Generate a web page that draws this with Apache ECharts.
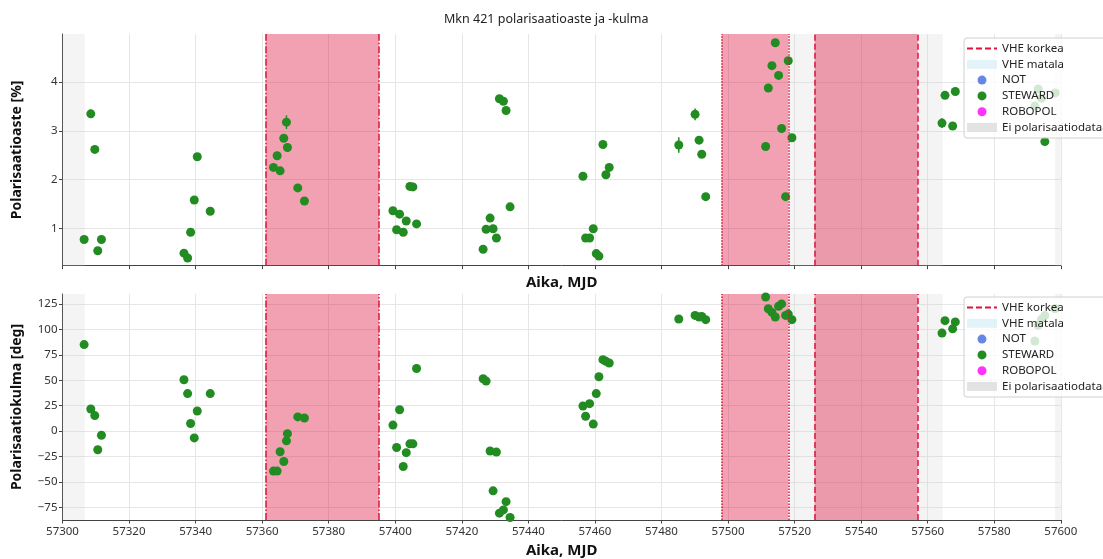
<!DOCTYPE html>
<html>
<head>
<meta charset="utf-8">
<script src="https://cdn.jsdelivr.net/npm/echarts@6/dist/echarts.min.js"></script>
<style>
html,body{margin:0;padding:0;background:#fff;}
#c{width:1103px;height:559px;}
</style>
</head>
<body>
<div id="c"></div>
<script>
// ---------------- DATA ----------------
const mjd = [57306.5,57308.5,57309.7,57310.6,57311.7,
  57336.5,57337.6,57338.5,57339.6,57340.5,57344.4,
  57363.4,57364.5,57365.4,57366.5,57367.3,57367.6,57370.7,57372.7,
  57399.3,57400.4,57401.3,57402.4,57403.3,57404.4,57405.3,57406.4,
  57426.4,57427.3,57428.5,57429.4,57430.4,57431.3,57432.5,57433.3,57434.5,
  57456.4,57457.2,57458.4,57459.5,57460.4,57461.2,57462.4,57463.3,57464.3,
  57485.2,57490.1,57491.3,57492.1,57493.3,
  57511.3,57512.1,57513.2,57514.2,57515.2,57516.1,57517.3,57518.1,57519.2,
  57564.3,57565.2,57567.5,57568.3,
  57592.2,57593.2,57594.2,57595.2,57598.3];
const polDegree = [0.77,3.35,2.62,0.54,0.77,
  0.49,0.39,0.92,1.58,2.47,1.35,
  2.25,2.49,2.18,2.85,3.18,2.66,1.83,1.56,
  1.36,0.97,1.29,0.92,1.15,1.86,1.85,1.09,
  0.57,0.98,1.21,0.99,0.80,3.66,3.61,3.42,1.44,
  2.07,0.80,0.80,0.99,0.48,0.43,2.72,2.10,2.25,
  2.71,3.34,2.81,2.52,1.65,
  2.68,3.88,4.34,4.81,4.14,3.05,1.65,4.44,2.86,
  3.16,3.73,3.10,3.81,
  3.51,3.86,3.67,2.78,3.78];
const polDegreeErr = [0.04,0.04,0.04,0.04,0.04,
  0.04,0.04,0.04,0.04,0.04,0.04,
  0.04,0.04,0.04,0.04,0.14,0.04,0.04,0.04,
  0.04,0.04,0.04,0.04,0.04,0.04,0.04,0.04,
  0.04,0.04,0.04,0.04,0.04,0.04,0.04,0.04,0.04,
  0.04,0.04,0.04,0.04,0.04,0.04,0.04,0.04,0.04,
  0.16,0.12,0.04,0.04,0.04,
  0.04,0.04,0.04,0.04,0.04,0.04,0.04,0.04,0.04,
  0.10,0.04,0.04,0.04,
  0.04,0.04,0.04,0.04,0.04];
const polAngle = [85,21.8,15.3,-18.2,-4,
  50.5,36.9,7.6,-6.6,19.8,36.9,
  -39.2,-39.2,-20.2,-29.8,-9.5,-2.4,14,13,
  6,-16,21.1,-34.7,-21.1,-12.4,-12.4,61.5,
  51.5,49.2,-19.5,-58.6,-20.5,-80.5,-77.3,-69.2,-84.7,
  24.7,14.7,27,7,36.9,53.4,70.2,68.6,67,
  110.2,113.7,112.1,112.7,109.5,
  131.8,120.2,116.6,112.1,122.7,125,113.7,115,109.5,
  96.3,108.5,100.5,107.3,
  88.5,104,110,113.5,120.2];
// VHE high-state periods [start, end] (MJD)
const vheHigh = [[57361.05,57395.1],[57498.1,57518.1],[57526.0,57557.0]];
// periods without polarisation data
const noPolData = [[57300,57306.7],[57518.3,57564.5],[57598.3,57600]];
const xTicks = {min:57300, max:57600, step:20};
const degTicks = [1,2,3,4];
const angTicks = [-75,-50,-25,0,25,50,75,100,125];
const legendNames = ['VHE korkea','VHE matala','NOT','STEWARD','ROBOPOL','Ei polarisaatiodataa'];

// ---------------- CHART ----------------
const FONT = 'Noto Sans';
const chart = echarts.init(document.getElementById('c'), null, {renderer:'canvas'});
const GREEN = '#228B22', CRIMSON = '#DC143C';
const borderTypes = [[7,2,1.5,2],[1.5,1.5],[6,3]];
const minus = v => String(v).replace('-', '\u2212');

const degData = mjd.map((x,i)=>[x, polDegree[i]]);
const degErrData = mjd.map((x,i)=>[x, polDegree[i], polDegreeErr[i]]);
const angData = mjd.map((x,i)=>[x, polAngle[i]]);

function xAxisDef(idx, showLabels, nameGap){
  return {
    type:'value', gridIndex:idx, min:xTicks.min, max:xTicks.max, interval:xTicks.step,
    name:'Aika, MJD', nameLocation:'middle', nameGap:nameGap,
    nameTextStyle:{fontFamily:FONT, fontSize:15, fontWeight:'bold', color:'#111'},
    axisLine:{show:true, onZero:false, lineStyle:{color:'#444', width:1}},
    axisTick:{show:true, length:3.5, lineStyle:{color:'#444'}},
    axisLabel:{show:showLabels, fontFamily:FONT, fontSize:11.5, color:'#333', margin:6, formatter:v=>String(v)},
    splitLine:{show:true, lineStyle:{color:'#e6e6e6', width:1}}
  };
}
function yAxisDef(idx, min, max, ticks, name){
  return {
    type:'value', gridIndex:idx, min:min, max:max,
    name:name, nameLocation:'middle', nameGap:38,
    nameTextStyle:{fontFamily:FONT, fontSize:14, fontWeight:'bold', color:'#111'},
    axisLine:{show:true, onZero:false, lineStyle:{color:'#444', width:1}},
    axisTick:{show:true, length:3.5, lineStyle:{color:'#444'}, customValues:ticks},
    axisLabel:{fontFamily:FONT, fontSize:11.5, color:'#333', margin:5, customValues:ticks, formatter:minus},
    splitLine:{show:true, lineStyle:{color:'#e6e6e6', width:1}}
  };
}
function legendDef(top){
  return {
    orient:'vertical', left:964, top:top,
    backgroundColor:'rgba(255,255,255,0.8)', borderColor:'#d0d0d0', borderWidth:1, borderRadius:3,
    padding:[4,4,4,2], itemWidth:30, itemHeight:9, itemGap:2.8,
    textStyle:{fontFamily:FONT, fontSize:11.5, color:'#222', lineHeight:13},
    selectedMode:false, z:10,
    data:[
      {name:'VHE korkea', itemStyle:{color:'rgba(0,0,0,0)', borderWidth:0}},
      {name:'VHE matala', icon:'rect', itemStyle:{color:'rgba(135,206,235,0.3)'}},
      {name:'NOT', icon:'circle', itemStyle:{color:'#4169E1'}},
      {name:'STEWARD', icon:'circle', itemStyle:{color:GREEN}},
      {name:'ROBOPOL', icon:'circle', itemStyle:{color:'#FF00FF'}},
      {name:'Ei polarisaatiodataa', icon:'rect', itemStyle:{color:'#dcdcdc'}}
    ]
  };
}
function panelSeries(idx, data){
  const out = [];
  out.push({
    name:'Ei polarisaatiodataa', type:'scatter', xAxisIndex:idx, yAxisIndex:idx, data:[], z:1,
    itemStyle:{color:'#dcdcdc'},
    markArea:{silent:true, itemStyle:{color:'rgba(211,211,211,0.25)'},
      data:noPolData.map(r=>[{xAxis:r[0]},{xAxis:r[1]}])}
  });
  out.push({
    name:'VHE korkea', type:'line', xAxisIndex:idx, yAxisIndex:idx, data:[], symbol:'none', z:2,
    itemStyle:{color:CRIMSON},
    lineStyle:{color:CRIMSON, type:[6,3], width:2},
    markArea:{silent:true, itemStyle:{color:'rgba(220,20,60,0.4)'},
      data:vheHigh.map(r=>[{xAxis:r[0]},{xAxis:r[1]}])},
    markLine:{silent:true, symbol:['none','none'], label:{show:false},
      data:vheHigh.flatMap((r,i)=>[
        {xAxis:r[0], lineStyle:{color:CRIMSON, width:1.5, type:borderTypes[i]}},
        {xAxis:r[1], lineStyle:{color:CRIMSON, width:1.5, type:borderTypes[i]}}
      ])}
  });
  out.push({name:'VHE matala', type:'scatter', xAxisIndex:idx, yAxisIndex:idx, data:[], itemStyle:{color:'rgba(135,206,235,0.3)'}});
  out.push({name:'NOT', type:'scatter', xAxisIndex:idx, yAxisIndex:idx, data:[], itemStyle:{color:'#4169E1'}});
  out.push({name:'STEWARD', type:'scatter', xAxisIndex:idx, yAxisIndex:idx, data:data, symbolSize:9, z:4,
    itemStyle:{color:GREEN, opacity:1}});
  out.push({name:'ROBOPOL', type:'scatter', xAxisIndex:idx, yAxisIndex:idx, data:[], itemStyle:{color:'#FF00FF'}});
  return out;
}

const series = [].concat(panelSeries(0, degData), panelSeries(1, angData));
series.push({
  type:'custom', xAxisIndex:0, yAxisIndex:0, z:3, silent:true, data:degErrData,
  renderItem:(params, api)=>{
    const x = api.value(0), y = api.value(1), e = api.value(2);
    const p1 = api.coord([x, y-e]), p2 = api.coord([x, y+e]);
    return {type:'line', shape:{x1:p1[0], y1:p1[1], x2:p2[0], y2:p2[1]},
      style:{stroke:GREEN, lineWidth:1.5}};
  }
});

chart.setOption({
  animation:false,
  backgroundColor:'#fff',
  title:{text:'Mkn 421 polarisaatioaste ja -kulma', left:439, top:8,
    textStyle:{fontFamily:FONT, fontSize:12.5, fontWeight:'normal', color:'#222'}},
  grid:[
    {left:62.5, top:34, width:998.3, height:231.7},
    {left:62.5, top:294, width:998.3, height:229.3}
  ],
  xAxis:[xAxisDef(0,false,10), xAxisDef(1,true,23)],
  yAxis:[
    yAxisDef(0, 0.232, 4.99, degTicks, 'Polarisaatioaste [%]'),
    yAxisDef(1, -87.2, 134.7, angTicks, 'Polarisaatiokulma [deg]')
  ],
  legend:[legendDef(38), legendDef(297)],
  series:series
});
</script>
</body>
</html>
